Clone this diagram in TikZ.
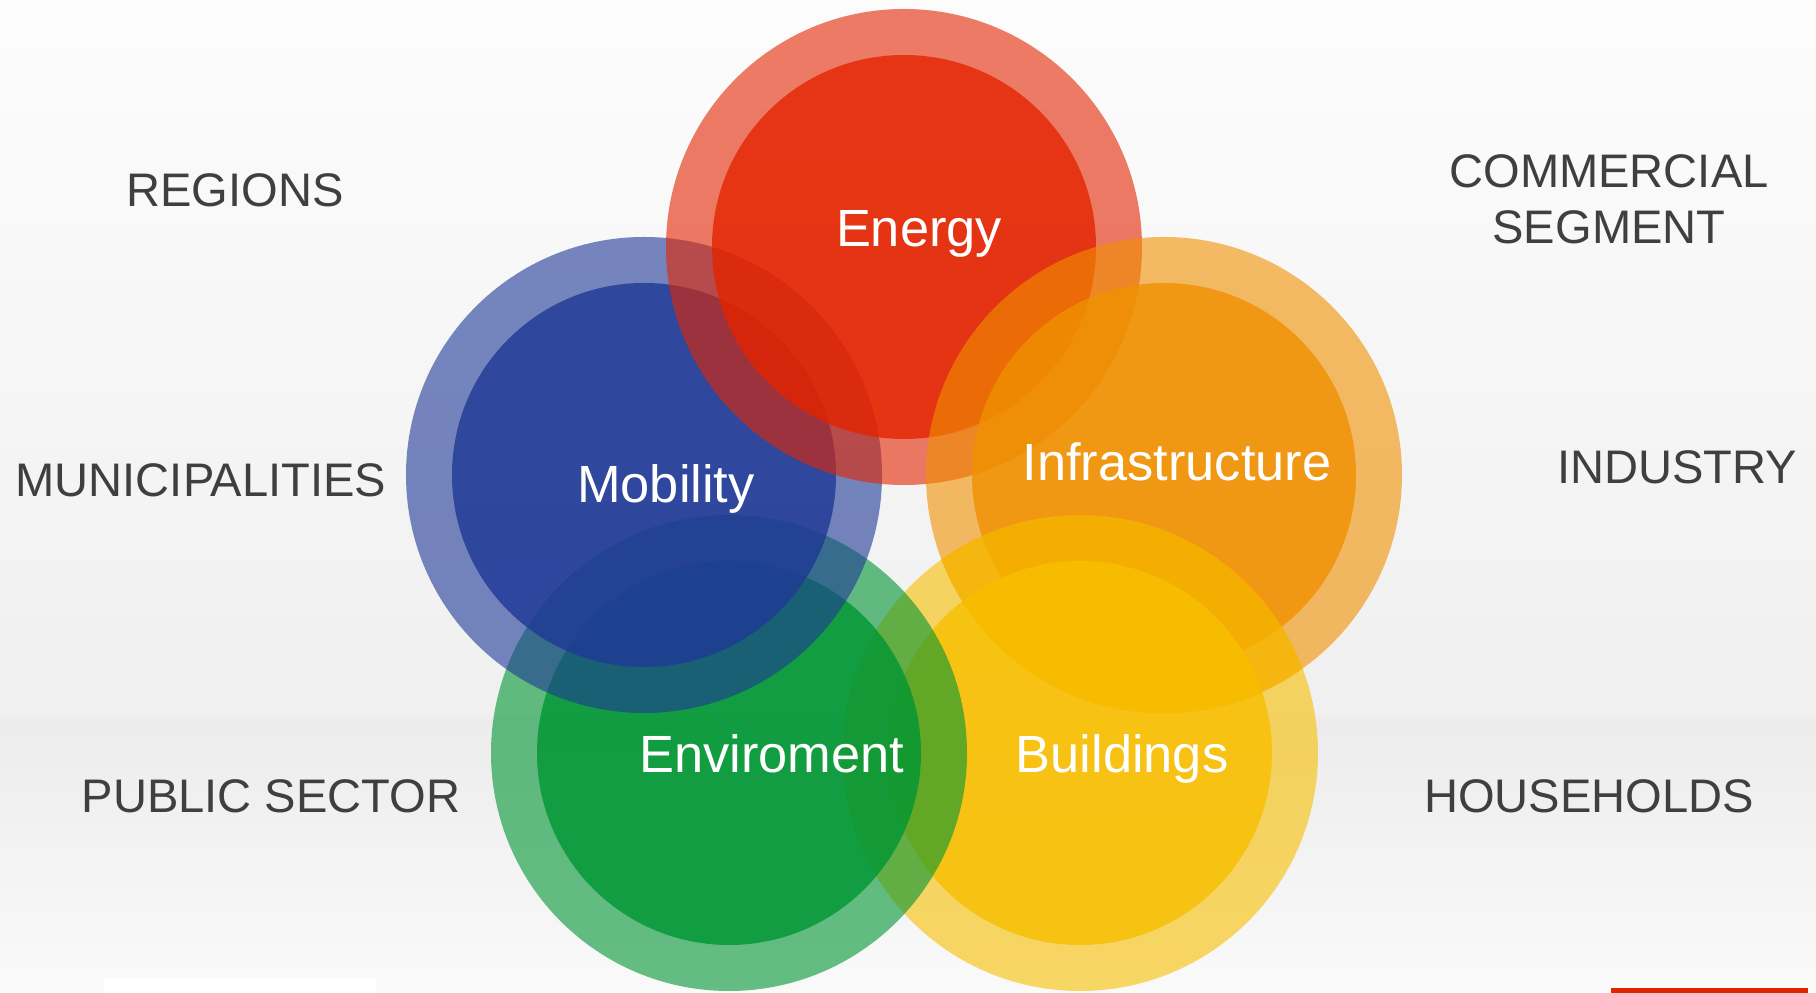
\documentclass[tikz,border=0pt]{standalone}
\usepackage{fontspec}
\setmainfont{Liberation Sans}

\definecolor{energyred}{HTML}{E42400}
\definecolor{mobilityblue}{HTML}{1E3896}
\definecolor{infraorange}{HTML}{F09000}
\definecolor{buildyellow}{HTML}{F8BF00}
\definecolor{envgreen}{HTML}{009633}
\definecolor{labelgray}{HTML}{3F3F3F}

% one coloured bubble: light outer ring and strong core
\newcommand{\drawbubble}[3]{%
  \fill[#1, fill opacity=0.6] (#2,#3) circle (238);
  \fill[#1, fill opacity=0.8] (#2,#3) circle (192);
}

\tikzset{
  sector/.style={anchor=base, text=labelgray, align=center,
    font=\fontsize{13.4pt}{16.2pt}\selectfont},
  field/.style={anchor=base, text=white,
    font=\fontsize{14.9pt}{18pt}\selectfont},
}

\begin{document}
\begin{tikzpicture}[x=0.1mm, y=-0.1mm]

    % background
    \fill[top color=white!98!gray, bottom color=white!88!gray] (0,0) rectangle (1816,718);
    \fill[top color=white!85!gray, bottom color=white!96!gray] (0,718) rectangle (1816,993);
    \fill[white] (104,978) rectangle (376,993);
    \fill[energyred] (1611,988) rectangle (1808,993);

    % bubbles
    \drawbubble{buildyellow}{1080}{753}
    \drawbubble{envgreen}{729}{753}
    \drawbubble{mobilityblue}{644}{475}
    \drawbubble{energyred}{904}{247}
    \drawbubble{infraorange}{1164}{475}
    % buildings lies over infrastructure
    \begin{scope}
        \clip (1164,475) circle (238);
        \drawbubble{buildyellow}{1080}{753}
    \end{scope}

    % bubble labels
    \node[field] (energy) at (919,247) {Energy};
    \node[field] (mobility) at (666,503) {Mobility};
    \node[field] (infra) at (1177,481) {Infrastructure};
    \node[field] (enviroment) at (772,773) {Enviroment};
    \node[field] (buildings) at (1122,773) {Buildings};

    % sector labels
    \node[sector] (regions) at (235,207) {REGIONS};
    \node[sector] (commercial) at (1609,244) {COMMERCIAL\\SEGMENT};
    \node[sector] (municipalities) at (201,497) {MUNICIPALITIES};
    \node[sector] (industry) at (1677,484) {INDUSTRY};
    \node[sector] (public) at (271,813) {PUBLIC SECTOR};
    \node[sector] (households) at (1589,813) {HOUSEHOLDS};

\end{tikzpicture}
\end{document}
